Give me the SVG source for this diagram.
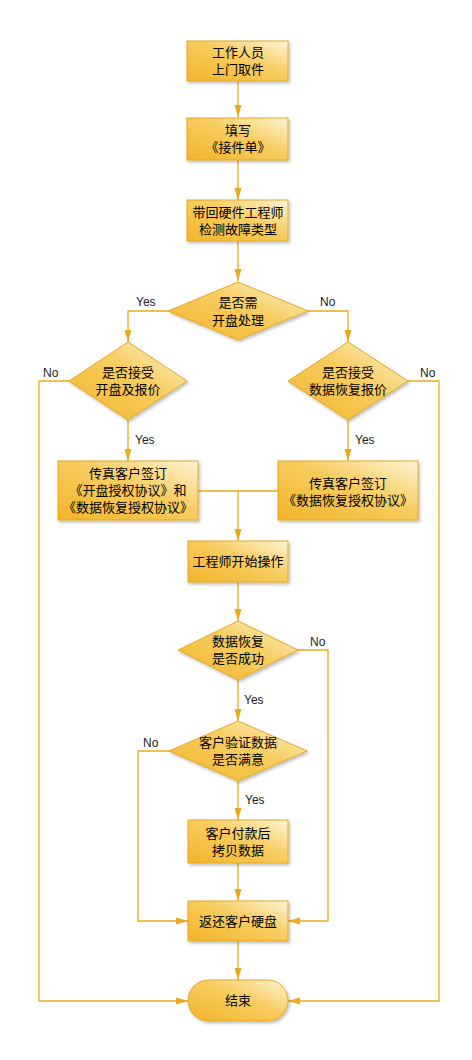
<svg xmlns="http://www.w3.org/2000/svg" width="472" height="1060" viewBox="0 0 472 1060">
<defs>
<linearGradient id="g" x1="0" y1="1" x2="1" y2="0">
<stop offset="0" stop-color="#F2B42A"/>
<stop offset="0.55" stop-color="#F7CC5E"/>
<stop offset="1" stop-color="#FEF4D6"/>
</linearGradient>
<filter id="sh" x="-10%" y="-10%" width="130%" height="140%">
<feDropShadow dx="1.5" dy="2" stdDeviation="1.5" flood-color="#000" flood-opacity="0.25"/>
</filter>
<marker id="ah" markerWidth="12" markerHeight="8" refX="12" refY="4" orient="auto" markerUnits="userSpaceOnUse">
<path d="M0,0.5 L12,4 L0,7.5 Z" fill="#E9AA1E"/>
</marker>
<style>
.n{fill:url(#g);stroke:#E3A823;stroke-width:1;filter:url(#sh)}
.c{fill:none;stroke:#E9AA1E;stroke-width:1.3}
.a{marker-end:url(#ah)}
.t{font-family:"Noto Sans CJK SC","Noto Sans",sans-serif;font-size:13px;fill:#000;text-anchor:middle}
.l{font-family:"Liberation Sans",Arial,sans-serif;font-size:12px;fill:#222}
</style>
</defs>
<rect width="472" height="1060" fill="#fff"/>
<g id="connectors">
<path class="c a" d="M238,81 V117"/>
<path class="c a" d="M238,160 V200"/>
<path class="c a" d="M238,241 V281"/>
<path class="c a" d="M168,311 H128 V342"/>
<path class="c a" d="M308,311 H348 V342"/>
<path class="c a" d="M69,381 H39 V1001 H188"/>
<path class="c a" d="M408,381 H439 V1001 H288"/>
<path class="c a" d="M128,420 V461"/>
<path class="c a" d="M348,420 V461"/>
<path class="c" d="M198,491 H278"/>
<path class="c a" d="M238,491 V541"/>
<path class="c a" d="M238,582 V621"/>
<path class="c a" d="M298,650 H328 V921 H288"/>
<path class="c a" d="M238,680 V721"/>
<path class="c a" d="M169,751 H138 V921 H188"/>
<path class="c a" d="M238,781 V820"/>
<path class="c a" d="M238,863 V901"/>
<path class="c a" d="M238,941 V980"/>
<text class="l" x="136" y="306">Yes</text>
<text class="l" x="320" y="306">No</text>
<text class="l" x="43" y="377">No</text>
<text class="l" x="420" y="377">No</text>
<text class="l" x="135" y="444">Yes</text>
<text class="l" x="355" y="444">Yes</text>
<text class="l" x="310" y="646">No</text>
<text class="l" x="244" y="704">Yes</text>
<text class="l" x="143" y="747">No</text>
<text class="l" x="245" y="804">Yes</text>
</g>
<g id="n1"><rect class="n" x="187" y="41" width="101" height="40"/>
<text class="t" x="238" y="57">工作人员</text><text class="t" x="238" y="74">上门取件</text></g>
<g id="n2"><rect class="n" x="187" y="118" width="101" height="42"/>
<text class="t" x="238" y="135">填写</text><text class="t" x="238" y="152">《接件单》</text></g>
<g id="n3"><rect class="n" x="187" y="200" width="101" height="41"/>
<text class="t" x="238" y="217">带回硬件工程师</text><text class="t" x="238" y="234">检测故障类型</text></g>
<g id="d1"><polygon class="n" points="238,282 308,311 238,340 168,311"/>
<text class="t" x="238" y="307">是否需</text><text class="t" x="238" y="325">开盘处理</text></g>
<g id="d2"><polygon class="n" points="128,342 187,381 128,420 69,381"/>
<text class="t" x="128" y="377">是否接受</text><text class="t" x="128" y="394">开盘及报价</text></g>
<g id="d3"><polygon class="n" points="348,342 408,381 348,420 288,381"/>
<text class="t" x="348" y="377">是否接受</text><text class="t" x="348" y="394">数据恢复报价</text></g>
<g id="n4"><rect class="n" x="58" y="461" width="140" height="59"/>
<text class="t" x="128" y="478">传真客户签订</text><text class="t" x="128" y="495">《开盘授权协议》和</text><text class="t" x="128" y="512">《数据恢复授权协议》</text></g>
<g id="n5"><rect class="n" x="278" y="461" width="140" height="59"/>
<text class="t" x="348" y="488">传真客户签订</text><text class="t" x="348" y="505">《数据恢复授权协议》</text></g>
<g id="n6"><rect class="n" x="188" y="541" width="100" height="41"/>
<text class="t" x="238" y="566">工程师开始操作</text></g>
<g id="d4"><polygon class="n" points="238,621 298,650 238,680 178,650"/>
<text class="t" x="238" y="646">数据恢复</text><text class="t" x="238" y="663">是否成功</text></g>
<g id="d5"><polygon class="n" points="238,721 307,751 238,781 169,751"/>
<text class="t" x="238" y="747">客户验证数据</text><text class="t" x="238" y="764">是否满意</text></g>
<g id="n7"><rect class="n" x="188" y="820" width="100" height="43"/>
<text class="t" x="238" y="838">客户付款后</text><text class="t" x="238" y="855">拷贝数据</text></g>
<g id="n8"><rect class="n" x="188" y="901" width="100" height="40"/>
<text class="t" x="238" y="926">返还客户硬盘</text></g>
<g id="n9"><rect class="n" x="188" y="980" width="100" height="41" rx="20.5"/>
<text class="t" x="238" y="1005">结束</text></g>
</svg>
